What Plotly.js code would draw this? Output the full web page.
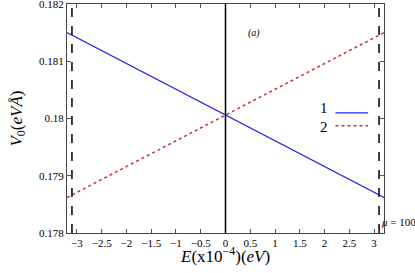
<!DOCTYPE html>
<html>
<head>
<meta charset="utf-8">
<script src="https://cdn.plot.ly/plotly-3.0.1.min.js"></script>
<style>html,body{margin:0;padding:0;background:#fff;}#chart{width:415px;height:273px;}</style>
</head>
<body>
<div id="chart"></div>
<script>
var energy = [-3.2, -3, -2, -1, 0, 1, 2, 3, 3.2];
var series1 = [0.18150, 0.18141, 0.18096, 0.18051, 0.18006, 0.17961, 0.17916, 0.17871, 0.17862];
var series2 = [0.17862, 0.17871, 0.17916, 0.17961, 0.18006, 0.18051, 0.18096, 0.18141, 0.18150];
var xTickStart = -3, xTickStep = 0.5;
var yTickStart = 0.178, yTickStep = 0.001;
var boundaryE = [-3.1, 3.1];
var legendNames = ['1', '2'];

var serif = 'Liberation Serif, Times New Roman, serif';
var blue = 'rgb(35,35,235)';
var red = 'rgb(200,50,50)';

var traces = [
  {x: energy, y: series1, mode: 'lines', line: {color: blue, width: 1.2}, showlegend: false},
  {x: energy, y: series2, mode: 'lines', line: {color: red, width: 1.5, dash: 'dot'}, showlegend: false}
];

var shapes = [
  {type: 'line', xref: 'x', yref: 'paper', x0: 0, x1: 0, y0: 0, y1: 1, line: {color: 'black', width: 1.5}},
  {type: 'line', xref: 'x', yref: 'paper', x0: boundaryE[0], x1: boundaryE[0], y0: 0, y1: 1, line: {color: 'black', width: 1.5, dash: 'dash'}},
  {type: 'line', xref: 'x', yref: 'paper', x0: boundaryE[1], x1: boundaryE[1], y0: 0, y1: 1, line: {color: 'black', width: 1.5, dash: 'dash'}},
  {type: 'line', xref: 'paper', yref: 'paper', x0: 0.847, x1: 0.95, y0: 0.525, y1: 0.525, line: {color: blue, width: 1.2}},
  {type: 'line', xref: 'paper', yref: 'paper', x0: 0.847, x1: 0.95, y0: 0.468, y1: 0.468, line: {color: red, width: 1.5, dash: 'dot'}}
];

var annotations = [
  {xref: 'paper', yref: 'paper', x: 0.81, y: 0.545, text: legendNames[0], showarrow: false, xanchor: 'center', yanchor: 'middle', font: {family: serif, size: 15, color: 'black'}},
  {xref: 'paper', yref: 'paper', x: 0.81, y: 0.462, text: legendNames[1], showarrow: false, xanchor: 'center', yanchor: 'middle', font: {family: serif, size: 15, color: 'black'}},
  {xref: 'paper', yref: 'paper', x: 0.59, y: 0.872, text: '<i>(a)</i>', showarrow: false, xanchor: 'center', yanchor: 'middle', font: {family: serif, size: 10, color: 'black'}},
  {xref: 'paper', yref: 'paper', x: 0.985, y: 0.048, text: '<i>μ</i> = 100', showarrow: false, xanchor: 'left', yanchor: 'middle', font: {family: serif, size: 11, color: 'black'}},
  {xref: 'paper', yref: 'paper', x: 0.497, y: -0.095, text: '<i>E</i>(x10<sup>−4</sup>)(<i>eV</i>)', showarrow: false, xanchor: 'center', yanchor: 'middle', font: {family: serif, size: 17, color: 'black'}}
];

var layout = {
  width: 415, height: 273,
  margin: {l: 67, r: 31, t: 4, b: 40},
  paper_bgcolor: 'white', plot_bgcolor: 'white',
  showlegend: false,
  xaxis: {
    range: [-3.2, 3.2], tickmode: 'linear', tick0: xTickStart, dtick: xTickStep, ticks: 'inside', ticklen: 4, tickcolor: '#555',
    showline: true, linecolor: '#444', linewidth: 1, mirror: 'ticks', showgrid: false, zeroline: false,
    ticklabeloverflow: 'allow',
    tickfont: {family: serif, size: 11, color: 'black'}
  },
  yaxis: {
    range: [0.178, 0.182], tickmode: 'linear', tick0: yTickStart, dtick: yTickStep, ticks: 'inside', ticklen: 4, tickcolor: '#555',
    showline: true, linecolor: '#444', linewidth: 1, mirror: 'ticks', showgrid: false, zeroline: false,
    ticklabeloverflow: 'allow',
    tickfont: {family: serif, size: 11, color: 'black'},
    title: {text: '<i>V</i><sub>0</sub>(<i>eVÅ</i>)', font: {family: serif, size: 17, color: 'black'}, standoff: 12}
  },
  shapes: shapes,
  annotations: annotations
};

Plotly.newPlot('chart', traces, layout, {displayModeBar: false, staticPlot: true});
</script>
</body>
</html>
